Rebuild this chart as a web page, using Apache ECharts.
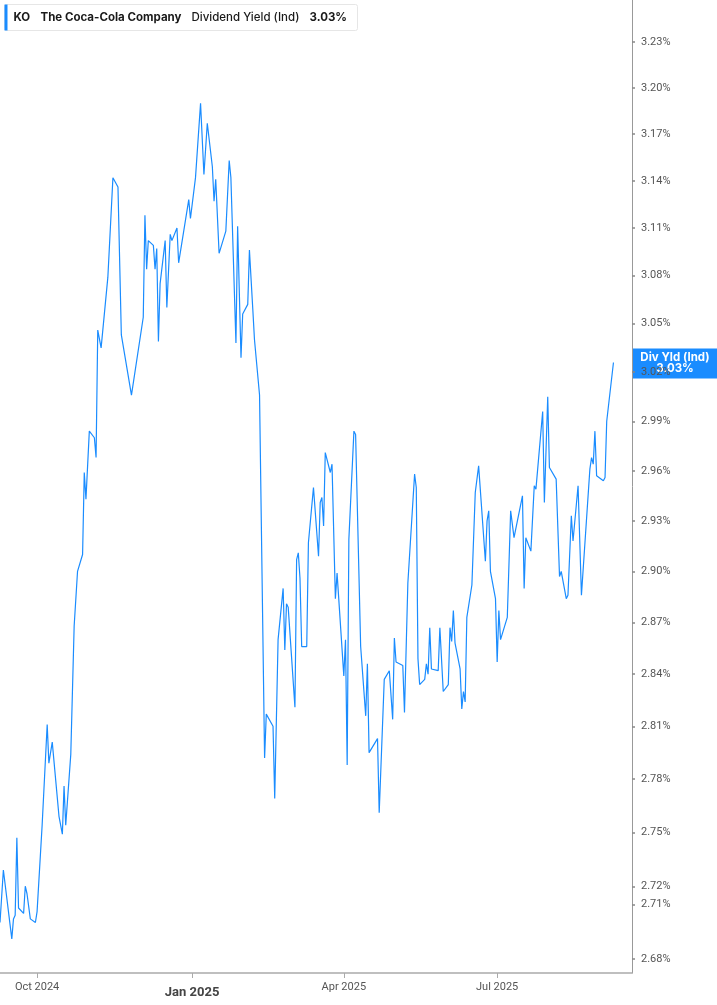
<!DOCTYPE html>
<html>
<head>
<meta charset="utf-8">
<script src="https://cdn.jsdelivr.net/npm/echarts@6/dist/echarts.min.js"></script>
<style>
html, body { margin: 0; padding: 0; background: #fff; }
#main { width: 717px; height: 1005px; }
</style>
</head>
<body>
<div id="main"></div>
<script>
// KO dividend yield (ind), %
var dates = [
    '2024-09-09', '2024-09-11', '2024-09-16', '2024-09-17', '2024-09-18', '2024-09-19', '2024-09-20',
    '2024-09-23', '2024-09-24', '2024-09-25', '2024-09-26', '2024-09-27', '2024-09-30', '2024-10-01',
    '2024-10-04', '2024-10-07', '2024-10-08', '2024-10-10', '2024-10-14', '2024-10-15', '2024-10-16',
    '2024-10-17', '2024-10-18', '2024-10-21', '2024-10-22', '2024-10-23', '2024-10-25', '2024-10-28',
    '2024-10-29', '2024-10-30', '2024-11-01', '2024-11-04', '2024-11-05', '2024-11-06', '2024-11-07',
    '2024-11-08', '2024-11-12', '2024-11-15', '2024-11-18', '2024-11-20', '2024-11-26', '2024-12-03',
    '2024-12-04', '2024-12-05', '2024-12-06', '2024-12-09', '2024-12-10', '2024-12-11', '2024-12-12',
    '2024-12-13', '2024-12-16', '2024-12-17', '2024-12-19', '2024-12-20', '2024-12-23', '2024-12-24',
    '2024-12-30', '2024-12-31', '2025-01-03', '2025-01-06', '2025-01-07', '2025-01-08', '2025-01-10',
    '2025-01-13', '2025-01-14', '2025-01-15', '2025-01-17', '2025-01-21', '2025-01-23', '2025-01-24',
    '2025-01-27', '2025-01-28', '2025-01-30', '2025-01-31', '2025-02-03', '2025-02-04', '2025-02-06',
    '2025-02-07', '2025-02-10', '2025-02-13', '2025-02-14', '2025-02-18', '2025-02-19', '2025-02-20',
    '2025-02-21', '2025-02-24', '2025-02-25', '2025-02-26', '2025-02-27', '2025-03-03', '2025-03-04',
    '2025-03-05', '2025-03-06', '2025-03-07', '2025-03-10', '2025-03-11', '2025-03-14', '2025-03-17',
    '2025-03-18', '2025-03-19', '2025-03-20', '2025-03-21', '2025-03-24', '2025-03-25', '2025-03-27',
    '2025-03-28', '2025-04-01', '2025-04-02', '2025-04-03', '2025-04-04', '2025-04-07', '2025-04-08',
    '2025-04-11', '2025-04-14', '2025-04-15', '2025-04-16', '2025-04-21', '2025-04-22', '2025-04-25',
    '2025-04-28', '2025-04-30', '2025-05-01', '2025-05-02', '2025-05-06', '2025-05-07', '2025-05-09',
    '2025-05-13', '2025-05-14', '2025-05-15', '2025-05-16', '2025-05-19', '2025-05-20', '2025-05-21',
    '2025-05-22', '2025-05-23', '2025-05-27', '2025-05-28', '2025-05-30', '2025-06-02', '2025-06-03',
    '2025-06-04', '2025-06-05', '2025-06-06', '2025-06-09', '2025-06-10', '2025-06-11', '2025-06-12',
    '2025-06-13', '2025-06-16', '2025-06-18', '2025-06-20', '2025-06-24', '2025-06-25', '2025-06-26',
    '2025-06-27', '2025-06-30', '2025-07-01', '2025-07-02', '2025-07-03', '2025-07-07', '2025-07-09',
    '2025-07-11', '2025-07-16', '2025-07-17', '2025-07-18', '2025-07-21', '2025-07-23', '2025-07-24',
    '2025-07-28', '2025-07-29', '2025-07-31', '2025-08-01', '2025-08-05', '2025-08-07', '2025-08-08',
    '2025-08-11', '2025-08-12', '2025-08-14', '2025-08-15', '2025-08-18', '2025-08-20', '2025-08-21',
    '2025-08-25', '2025-08-26', '2025-08-27', '2025-08-28', '2025-08-29', '2025-09-02', '2025-09-03',
    '2025-09-04', '2025-09-05', '2025-09-08'
];
var yields = [
    2.700, 2.729, 2.691, 2.702, 2.704, 2.747, 2.708,
    2.705, 2.720, 2.716, 2.717, 2.702, 2.700, 2.706,
    2.754, 2.811, 2.789, 2.801, 2.759, 2.758, 2.749,
    2.776, 2.754, 2.794, 2.794, 2.868, 2.900, 2.910,
    2.959, 2.943, 2.984, 2.980, 2.968, 3.046, 3.047,
    3.035, 3.079, 3.142, 3.136, 3.043, 3.006, 3.054,
    3.118, 3.084, 3.102, 3.099, 3.084, 3.097, 3.039,
    3.075, 3.102, 3.060, 3.106, 3.102, 3.110, 3.088,
    3.128, 3.116, 3.142, 3.190, 3.189, 3.144, 3.177,
    3.149, 3.127, 3.141, 3.094, 3.108, 3.153, 3.142,
    3.038, 3.111, 3.029, 3.056, 3.062, 3.096, 3.059,
    3.040, 3.006, 2.792, 2.817, 2.810, 2.769, 2.770,
    2.860, 2.890, 2.854, 2.881, 2.879, 2.821, 2.907,
    2.911, 2.896, 2.856, 2.856, 2.917, 2.950, 2.909,
    2.941, 2.944, 2.927, 2.971, 2.959, 2.964, 2.884,
    2.899, 2.839, 2.860, 2.788, 2.919, 2.984, 2.982,
    2.856, 2.816, 2.846, 2.795, 2.803, 2.761, 2.837,
    2.842, 2.814, 2.861, 2.847, 2.845, 2.818, 2.893,
    2.958, 2.950, 2.849, 2.834, 2.837, 2.846, 2.840,
    2.867, 2.843, 2.842, 2.867, 2.830, 2.834, 2.867,
    2.859, 2.877, 2.858, 2.843, 2.820, 2.830, 2.824,
    2.873, 2.892, 2.947, 2.963, 2.906, 2.930, 2.936,
    2.900, 2.884, 2.847, 2.877, 2.860, 2.873, 2.936,
    2.920, 2.945, 2.890, 2.920, 2.912, 2.951, 2.949,
    2.996, 2.941, 3.005, 2.962, 2.955, 2.897, 2.900,
    2.884, 2.886, 2.933, 2.918, 2.951, 2.886, 2.887,
    2.961, 2.968, 2.964, 2.984, 2.957, 2.954, 2.956,
    2.990, 2.999, 3.026
];

// axis ticks
var yTicks = [2.68, 2.71, 2.72, 2.75, 2.78, 2.81, 2.84, 2.87, 2.90, 2.93, 2.96, 2.99,
    3.02, 3.05, 3.08, 3.11, 3.14, 3.17, 3.20, 3.23];
var xTicks = ['2024-10-01', '2025-01-01', '2025-04-01', '2025-07-01'];
var xMin = '2024-09-09';
var xMax = '2025-09-19';
var yMin = 2.6724;
var yMax = 3.2577;
var monthNames = ['Jan', 'Feb', 'Mar', 'Apr', 'May', 'Jun', 'Jul', 'Aug', 'Sep', 'Oct', 'Nov', 'Dec'];

var lineColor = '#1a8cff';

function toTime(s) {
    var p = s.split('-');
    return new Date(+p[0], +p[1] - 1, +p[2]).getTime();
}

var seriesData = [];
for (var i = 0; i < dates.length; i++) {
    seriesData.push([toTime(dates[i]), yields[i]]);
}
var xTickValues = xTicks.map(toTime);

var Chart = echarts.init(document.getElementById('main'));
Chart.setOption({
    animation: false,
    backgroundColor: '#fff',
    grid: {
        left: 0,
        right: 85,
        top: 0,
        bottom: 32
    },
    // date axis (ms timestamps)
    xAxis: {
        type: 'value',
        min: toTime(xMin),
        max: toTime(xMax),
        splitLine: { show: false },
        axisLine: { show: true, lineStyle: { color: '#aaa', width: 1.5 } },
        axisTick: {
            show: true,
            customValues: xTickValues,
            length: 5,
            lineStyle: { color: '#aaa' }
        },
        axisLabel: {
            customValues: xTickValues,
            margin: 9,
            color: '#555',
            fontFamily: 'Roboto',
            fontSize: 11,
            formatter: function (val) {
                var d = new Date(val);
                var s = monthNames[d.getMonth()] + ' ' + d.getFullYear();
                return d.getMonth() === 0 ? '{y|' + s + '}' : s;
            },
            rich: {
                y: { fontWeight: 'bold', fontSize: 13, color: '#444', fontFamily: 'Roboto', padding: [4, 0, 0, 0] }
            }
        }
    },
    yAxis: {
        type: 'log',
        position: 'right',
        min: yMin,
        max: yMax,
        splitLine: { show: false },
        axisLine: { show: true, lineStyle: { color: '#999', width: 1 } },
        axisTick: {
            show: true,
            customValues: yTicks,
            length: 3,
            lineStyle: { color: '#888', width: 1.5 }
        },
        axisLabel: {
            customValues: yTicks,
            margin: 9,
            color: '#555',
            fontFamily: 'Roboto',
            fontSize: 11,
            padding: [3, 0, 0, 0],
            formatter: function (v) {
                return v.toFixed(2) + '%';
            }
        }
    },
    series: [
        {
            name: 'Div Yld (Ind)',
            type: 'line',
            showSymbol: false,
            symbol: 'none',
            lineStyle: { color: lineColor, width: 1.2 },
            itemStyle: { color: lineColor },
            data: seriesData
        }
    ]
});

// legend box + last value tag on the axis
var lastVal = yields[yields.length - 1];
var tagY = Chart.convertToPixel({ yAxisIndex: 0 }, lastVal);
var font = '11.5px Inter';
Chart.setOption({
    graphic: [
        {
            type: 'group',
            id: 'legendBox',
            left: 4,
            top: 4,
            children: [
                { type: 'rect', shape: { x: 0, y: 0, width: 353, height: 26, r: 2 },
                  style: { fill: '#fff', stroke: '#e6e6e6', lineWidth: 1 } },
                { type: 'rect', shape: { x: 0, y: 0, width: 3, height: 26 },
                  style: { fill: lineColor } },
                { type: 'text', x: 9, y: 13, style: { text: 'KO', font: 'bold ' + font, fill: '#1a1a1a', verticalAlign: 'middle' } },
                { type: 'text', x: 36, y: 13, style: { text: 'The Coca-Cola Company', font: 'bold ' + font, fill: '#1a1a1a', verticalAlign: 'middle' } },
                { type: 'text', x: 187, y: 13, style: { text: 'Dividend Yield (Ind)', font: '500 ' + font, fill: '#1a1a1a', verticalAlign: 'middle' } },
                { type: 'text', x: 305, y: 13, style: { text: lastVal.toFixed(2) + '%', font: 'bold ' + font, fill: '#1a1a1a', verticalAlign: 'middle' } }
            ]
        },
        {
            type: 'group',
            id: 'lastTag',
            x: 632,
            y: tagY,
            children: [
                { type: 'rect', shape: { x: 0, y: -14, width: 85, height: 30 },
                  style: { fill: lineColor } },
                { type: 'text', x: 43, y: 1,
                  style: { text: 'Div Yld (Ind)\n' + lastVal.toFixed(2) + '%', font: 'bold 11.5px Inter', fill: '#fff',
                           align: 'center', verticalAlign: 'middle', lineHeight: 11 } }
            ]
        }
    ]
});
</script>
</body>
</html>
